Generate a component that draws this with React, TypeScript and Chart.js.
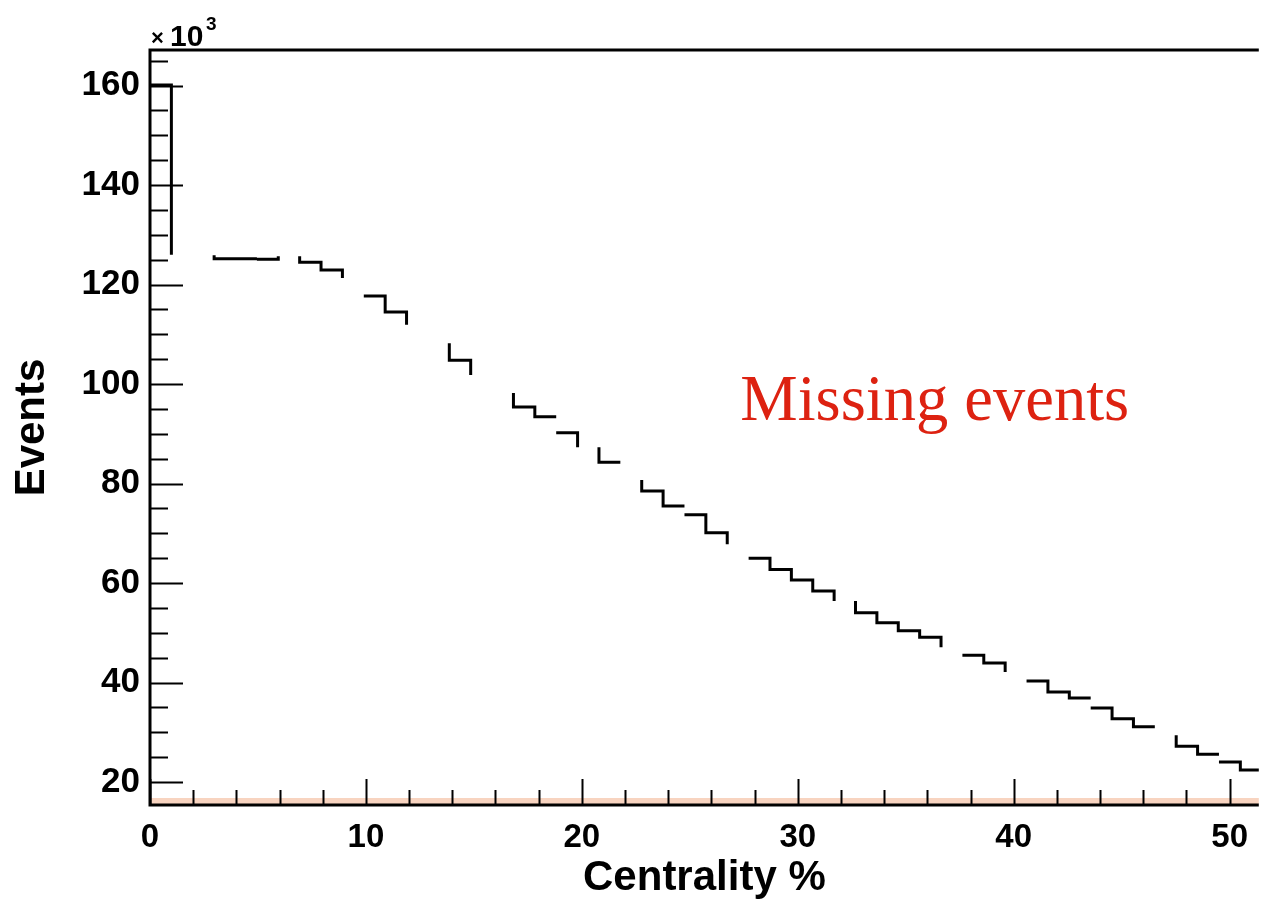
import { useEffect, useRef } from "react";
import { Chart, registerables } from "chart.js";

Chart.register(...registerables);

// Histogram: events per centrality bin (in units of 10^3)
const BIN_WIDTH = 100 / 101;
const EVENTS_K = [
  160.1, 126.0, 125.9, 125.2, 125.2, 125.1, 125.7, 124.5, 122.9, 121.3,
  117.7, 114.5, 111.9, 108.2, 104.8, 101.8, 98.2, 95.4, 93.4, 90.2,
  87.3, 84.3, 80.7, 78.5, 75.5, 73.7, 70.1, 67.8, 65.0, 62.7,
  60.6, 58.4, 56.4, 54.0, 52.0, 50.4, 49.1, 47.1, 45.5, 43.9,
  42.1, 40.3, 38.1, 36.9, 34.9, 32.7, 31.1, 29.4, 27.2, 25.6,
  24.0, 22.4,
];
// 1 = bin top visible, 0 = missing
const TOP_VISIBLE = [
  1, 0, 0, 1, 1, 1, 0, 1, 1, 0,
  1, 1, 0, 0, 1, 0, 0, 1, 1, 1,
  0, 1, 0, 1, 1, 1, 1, 0, 1, 1,
  1, 1, 0, 1, 1, 1, 1, 0, 1, 1,
  0, 1, 1, 1, 1, 1, 1, 0, 1, 1,
  1, 1,
];
// 1 = step on the right edge of the bin visible, 0 = missing
const EDGE_VISIBLE = [
  1, 0, 1, 0, 0, 1, 1, 1, 1, 0,
  1, 1, 0, 1, 1, 0, 1, 1, 0, 1,
  1, 0, 1, 1, 0, 1, 1, 0, 1, 1,
  1, 1, 1, 1, 1, 1, 1, 0, 1, 1,
  0, 1, 1, 0, 1, 1, 0, 1, 1, 0,
  1,
];

const X_MIN = 0;
const X_MAX = 51.35;
const Y_MIN = 15.38;
const Y_MAX = 167.14;
const X_MAJOR = 10;
const X_MINOR = 2;
const Y_MAJOR = 20;
const Y_MINOR = 5;

const X_TITLE = "Centrality %";
const Y_TITLE = "Events";
const EXP_BASE = "10";
const EXP_TIMES = "×";
const EXP_POWER = "3";
const NOTE = "Missing events";
const NOTE_X = 27.34;
const NOTE_Y = 92.8;

function buildPath() {
  const pts: { x: number; y: number | null }[] = [];
  let last: { x: number; y: number } | null = null;
  const add = (x0: number, y0: number, x1: number, y1: number) => {
    if (!last || last.x !== x0 || last.y !== y0) {
      if (pts.length) pts.push({ x: x0, y: null });
      pts.push({ x: x0, y: y0 });
    }
    pts.push({ x: x1, y: y1 });
    last = { x: x1, y: y1 };
  };
  EVENTS_K.forEach((v, i) => {
    const l = i * BIN_WIDTH;
    const r = (i + 1) * BIN_WIDTH;
    if (TOP_VISIBLE[i]) add(l, v, r, v);
    if (i < EVENTS_K.length - 1 && EDGE_VISIBLE[i]) add(r, v, r, EVENTS_K[i + 1]);
  });
  return pts;
}

const framePlugin = {
  id: "rootFrame",
  afterDatasetsDraw(chart: any) {
    const { ctx, chartArea: a, scales } = chart;
    const x = scales.x;
    const y = scales.y;
    ctx.save();
    // tinted band along the x axis
    ctx.fillStyle = "rgba(240,160,115,0.45)";
    ctx.fillRect(a.left, a.bottom - 7, a.right - a.left, 6);

    // inward ticks
    ctx.strokeStyle = "#000";
    ctx.lineWidth = 2;
    ctx.beginPath();
    for (let v = Math.ceil(X_MIN / X_MINOR) * X_MINOR; v <= X_MAX; v += X_MINOR) {
      const px = Math.round(x.getPixelForValue(v)) + 0.5;
      const len = v % X_MAJOR === 0 ? 26 : 15;
      ctx.moveTo(px, a.bottom);
      ctx.lineTo(px, a.bottom - len);
    }
    for (let v = Math.ceil(Y_MIN / Y_MINOR) * Y_MINOR; v <= Y_MAX; v += Y_MINOR) {
      const py = Math.round(y.getPixelForValue(v)) + 0.5;
      const len = v % Y_MAJOR === 0 ? 33 : 18;
      ctx.moveTo(a.left, py);
      ctx.lineTo(a.left + len, py);
    }
    ctx.stroke();

    // frame
    ctx.lineWidth = 3;
    ctx.beginPath();
    ctx.moveTo(a.right, a.top);
    ctx.lineTo(a.left, a.top);
    ctx.lineTo(a.left, a.bottom);
    ctx.lineTo(a.right, a.bottom);
    ctx.stroke();

    // exponent label
    ctx.fillStyle = "#000";
    ctx.textAlign = "left";
    ctx.textBaseline = "alphabetic";
    ctx.font = 'bold 22px "Liberation Sans", Arial, sans-serif';
    ctx.fillText(EXP_TIMES, a.left + 1, a.top - 5);
    ctx.font = 'bold 30px "Liberation Sans", Arial, sans-serif';
    ctx.fillText(EXP_BASE, a.left + 20, a.top - 4);
    ctx.font = 'bold 19px "Liberation Sans", Arial, sans-serif';
    ctx.fillText(EXP_POWER, a.left + 56, a.top - 20);

    // annotation
    ctx.fillStyle = "#dd2211";
    ctx.font = '64.5px "Liberation Serif", "Times New Roman", serif';
    ctx.fillText(NOTE, x.getPixelForValue(NOTE_X), y.getPixelForValue(NOTE_Y));
    ctx.restore();
  },
};

export default function App() {
  const ref = useRef<HTMLCanvasElement | null>(null);

  useEffect(() => {
    if (!ref.current) return;
    const chart = new Chart(ref.current, {
      type: "line",
      data: {
        datasets: [
          {
            data: buildPath() as any,
            borderColor: "#000",
            borderWidth: 3,
            pointRadius: 0,
            fill: false,
            spanGaps: false,
            tension: 0,
            borderJoinStyle: "miter",
          },
        ],
      },
      options: {
        animation: false,
        responsive: false,
        layout: { padding: { top: 50, left: 0, right: 0, bottom: 0 } },
        plugins: { legend: { display: false }, tooltip: { enabled: false } },
        scales: {
          x: {
            type: "linear",
            min: X_MIN,
            max: X_MAX,
            afterFit: (s: any) => {
              s.height = 99;
            },
            grid: { display: true, drawOnChartArea: false, drawTicks: false },
            border: { display: false },
            ticks: {
              stepSize: X_MAJOR,
              includeBounds: false,
              padding: 13,
              maxRotation: 0,
              autoSkip: false,
              color: "#000",
              font: { family: '"Liberation Sans", Arial, sans-serif', size: 33, weight: "bold" },
            },
            title: {
              display: true,
              text: X_TITLE,
              color: "#000",
              font: { family: '"Liberation Sans", Arial, sans-serif', size: 42, weight: "bold" },
              padding: { top: 0, bottom: 0 },
            },
          },
          y: {
            type: "linear",
            min: Y_MIN,
            max: Y_MAX,
            afterFit: (s: any) => {
              s.width = 150;
            },
            grid: { display: true, drawOnChartArea: false, drawTicks: false },
            border: { display: false },
            ticks: {
              stepSize: Y_MAJOR,
              includeBounds: false,
              padding: 10,
              color: "#000",
              font: { family: '"Liberation Sans", Arial, sans-serif', size: 35, weight: "bold" },
            },
            title: {
              display: true,
              text: Y_TITLE,
              color: "#000",
              font: { family: '"Liberation Sans", Arial, sans-serif', size: 42, weight: "bold" },
              padding: { top: 7, bottom: 0 },
            },
          },
        },
      },
      plugins: [framePlugin],
    } as any);
    return () => chart.destroy();
  }, []);

  return (
    <div style={{ position: "absolute", left: 0, top: 0, width: 1261, height: 904, background: "#fff" }}>
      <canvas ref={ref} width={1261} height={904} style={{ display: "block" }} />
    </div>
  );
}
